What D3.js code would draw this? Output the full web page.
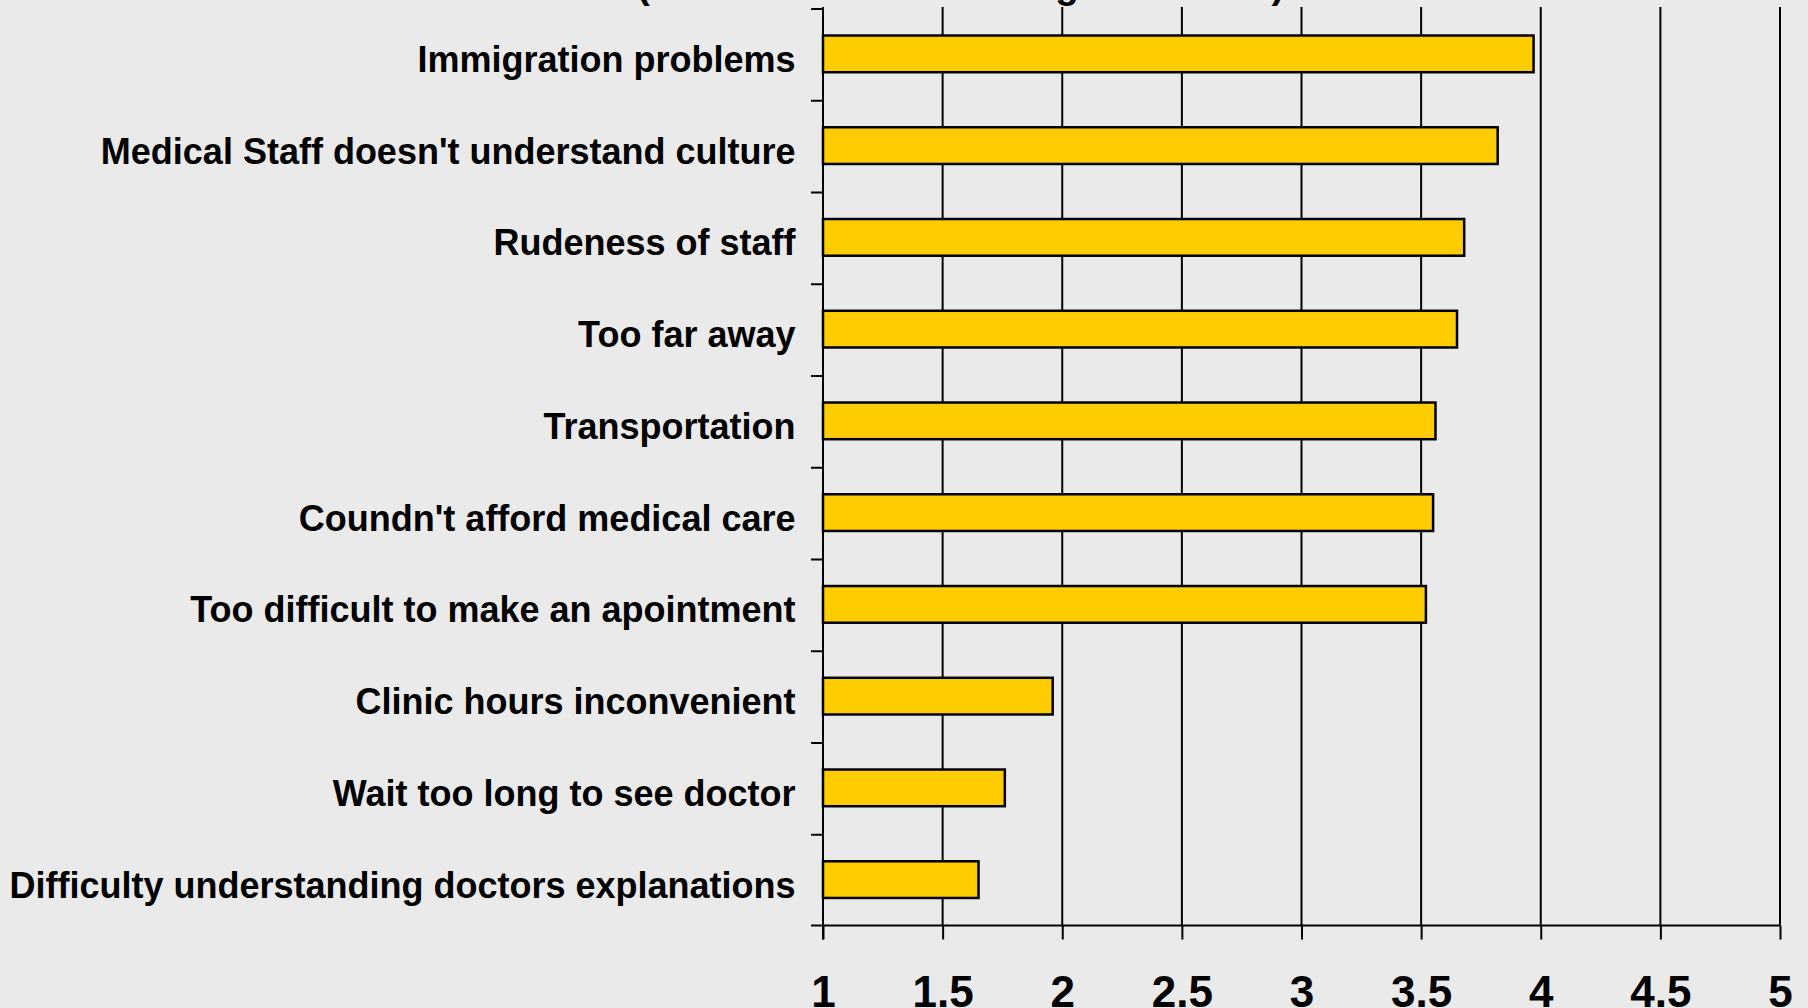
<!DOCTYPE html>
<html>
<head>
<meta charset="utf-8">
<script src="https://cdn.jsdelivr.net/npm/d3@7"></script>
<style>
  body { margin: 0; background: #eaeaea; }
  svg { display: block; font-family: "Liberation Sans", Arial, sans-serif; }
</style>
</head>
<body>
<svg></svg>
<script>
// barriers, top to bottom as drawn
var categories = [
  "Immigration problems",
  "Medical Staff doesn't understand culture",
  "Rudeness of staff",
  "Too far away",
  "Transportation",
  "Coundn't afford medical care",
  "Too difficult to make an apointment",
  "Clinic hours inconvenient",
  "Wait too long to see doctor",
  "Difficulty understanding doctors explanations"
];
var scores = [3.97, 3.82, 3.68, 3.65, 3.56, 3.55, 3.52, 1.96, 1.76, 1.65];
var xTicks = [1, 1.5, 2, 2.5, 3, 3.5, 4, 4.5, 5];
var titleText = "(Mean Score: 5 = Strongest Barrier)";

var W = 1808, H = 1008;
var svg = d3.select("svg")
            .attr("width", W)
            .attr("height", H);

svg.append("rect")
   .attr("width", W)
   .attr("height", H)
   .attr("fill", "#eaeaea");

var plot = { left: 823, right: 1780, top: 8, bottom: 925.5 };

var xScale = d3.scaleLinear()
               .domain([1, 5])
               .range([plot.left, plot.right]);

var yScale = d3.scaleBand()
               .domain(categories)
               .range([plot.top, plot.bottom])
               .paddingInner(0.6)
               .paddingOuter(0.3);

// title, mostly cut off at the top edge
svg.append("text")
   .attr("x", 637)
   .attr("y", -2)
   .attr("font-size", 38.5)
   .attr("font-weight", "bold")
   .attr("fill", "#000")
   .text(titleText);

// vertical gridlines
svg.append("g")
   .selectAll("line")
   .data(xTicks)
   .enter()
   .append("line")
   .attr("x1", function(d) { return xScale(d); })
   .attr("x2", function(d) { return xScale(d); })
   .attr("y1", plot.top - 1)
   .attr("y2", plot.bottom)
   .attr("stroke", "#000")
   .attr("stroke-width", 2);

// bars
svg.append("g")
   .selectAll("rect")
   .data(scores)
   .enter()
   .append("rect")
   .attr("x", xScale(1))
   .attr("y", function(d, i) { return yScale(categories[i]); })
   .attr("width", function(d) { return xScale(d) - xScale(1); })
   .attr("height", yScale.bandwidth())
   .attr("fill", "#ffcc00")
   .attr("stroke", "#000")
   .attr("stroke-width", 2.5);

// x axis
var xAxis = svg.append("g")
   .attr("transform", "translate(0," + plot.bottom + ")")
   .call(d3.axisBottom(xScale).tickValues(xTicks).tickSize(14).tickSizeOuter(0).tickFormat(d3.format("")));

xAxis.select(".domain").remove();
xAxis.selectAll(".tick line")
     .attr("stroke", "#000")
     .attr("stroke-width", 2);
xAxis.selectAll("text")
     .attr("y", 81.5)
     .attr("dy", 0)
     .attr("font-size", 44)
     .attr("font-weight", "bold")
     .attr("font-family", "'Liberation Sans', Arial, sans-serif")
     .attr("fill", "#000");

xAxis.append("line")
     .attr("x1", plot.left - 12)
     .attr("x2", plot.right)
     .attr("y1", 0)
     .attr("y2", 0)
     .attr("stroke", "#000")
     .attr("stroke-width", 2);

// y axis: line, boundary ticks and labels
var yAxis = svg.append("g");

yAxis.append("line")
     .attr("x1", plot.left)
     .attr("x2", plot.left)
     .attr("y1", plot.top - 1)
     .attr("y2", plot.bottom + 14)
     .attr("stroke", "#000")
     .attr("stroke-width", 2);

var step = yScale.step();
yAxis.selectAll(".bound")
     .data(d3.range(categories.length))
     .enter()
     .append("line")
     .attr("class", "bound")
     .attr("x1", plot.left - 12)
     .attr("x2", plot.left)
     .attr("y1", function(i) { return plot.top + i * step + 1; })
     .attr("y2", function(i) { return plot.top + i * step + 1; })
     .attr("stroke", "#000")
     .attr("stroke-width", 2);

yAxis.selectAll(".lbl")
     .data(categories)
     .enter()
     .append("text")
     .attr("class", "lbl")
     .attr("x", plot.left - 27.5)
     .attr("y", function(d) { return yScale(d) + yScale.bandwidth() / 2 + 18; })
     .attr("text-anchor", "end")
     .attr("font-size", 36)
     .attr("font-weight", "bold")
     .attr("fill", "#000")
     .text(function(d) { return d; });
</script>
</body>
</html>
